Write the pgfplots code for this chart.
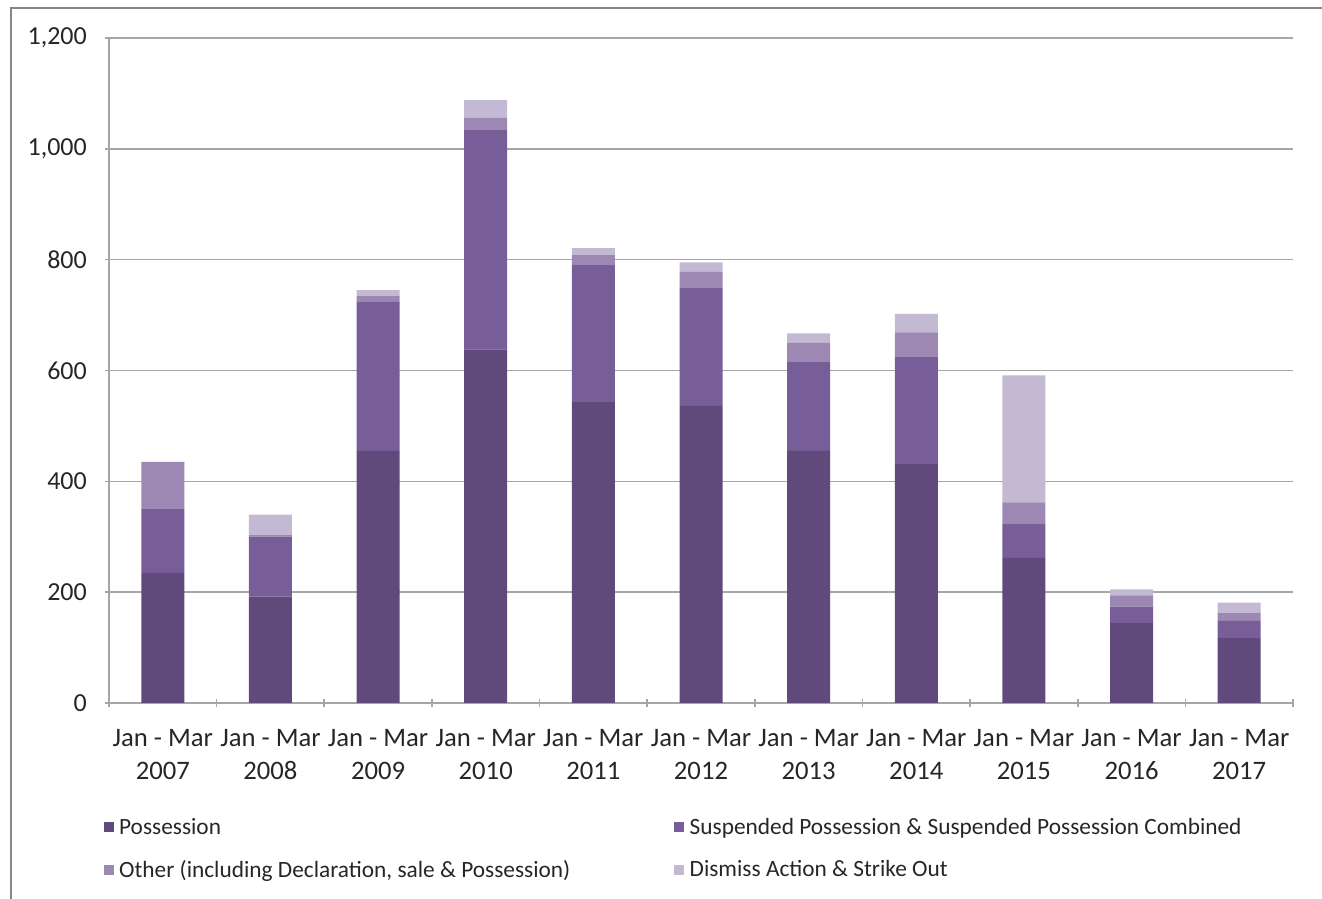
\documentclass[border=0pt]{standalone}
\usepackage{pgfplots}
\pgfplotsset{compat=1.18}
\usepackage{fontspec}
\setmainfont{Carlito}
\definecolor{cPos}{HTML}{604A7B}
\definecolor{cSus}{HTML}{775E98}
\definecolor{cOth}{HTML}{9D88B3}
\definecolor{cDis}{HTML}{C3B9D2}
\definecolor{cGrid}{HTML}{A6A6A6}
\definecolor{cFrame}{HTML}{868686}
\definecolor{cText}{HTML}{262626}
\begin{document}
\begin{tikzpicture}
\path[use as bounding box] (0,0) rectangle (991.5pt,674.25pt);
\draw[color=cFrame, line width=1.5pt] (8.25pt,0) -- (8.25pt,668.25pt) -- (991.5pt,668.25pt);
\begin{axis}[
  at={(81.75pt,147pt)}, anchor=south west,
  scale only axis, width=888pt, height=498.75pt,
  ybar stacked, bar width=32.25pt,
  xmin=-0.5, xmax=10.5, ymin=0, ymax=1200,
  ytick={0,200,...,1200},
  xtick={0,...,10},
  xticklabels={{Jan - Mar\\2007},{Jan - Mar\\2008},{Jan - Mar\\2009},{Jan - Mar\\2010},{Jan - Mar\\2011},{Jan - Mar\\2012},{Jan - Mar\\2013},{Jan - Mar\\2014},{Jan - Mar\\2015},{Jan - Mar\\2016},{Jan - Mar\\2017}},
  xticklabel style={align=center, font=\fontsize{20}{24.75}\selectfont, text=cText, yshift=-12.75pt},
  yticklabel style={font=\fontsize{19.5}{22}\selectfont, text=cText, xshift=-9.75pt},
  /pgf/number format/.cd, 1000 sep={,}, assume math mode=true, /pgfplots/.cd,
  minor xtick={-0.5,0.5,...,10.5},
  tick align=outside,
  major x tick style={draw=none},
  major tick length=6.75pt,
  minor tick length=6pt,
  tick style={color=cGrid, line width=1.2pt},
  axis x line=bottom, axis y line=left,
  axis line style={-, color=cGrid, line width=1.2pt},
  ymajorgrids, grid style={color=cGrid, line width=1.2pt},
  every axis plot/.append style={draw=none},
  legend columns=2,
  legend cell align=left,
  legend style={at={(-0.008,-0.165)}, anchor=north west, draw=none, fill=none,
    font=\fontsize{17.5}{20}\selectfont, text=cText,
    /tikz/every odd column/.append style={column sep=2pt},
    /tikz/every even column/.append style={column sep=76pt},
    row sep=13.75pt},
  legend image code/.code={\fill[#1] (0pt,-3.75pt) rectangle (7.5pt,3.75pt);},
]
\addplot[fill=cPos] coordinates {(0,235) (1,192) (2,455) (3,638) (4,543) (5,536) (6,455) (7,431) (8,262) (9,144) (10,117)};
\addplot[fill=cSus] coordinates {(0,115) (1,108) (2,269) (3,397) (4,247) (5,214) (6,160) (7,193) (8,62) (9,30) (10,31)};
\addplot[fill=cOth] coordinates {(0,85) (1,3) (2,11) (3,21) (4,19) (5,28) (6,35) (7,45) (8,38) (9,20) (10,14)};
\addplot[fill=cDis] coordinates {(0,0) (1,37) (2,10) (3,32) (4,12) (5,17) (6,17) (7,33) (8,229) (9,11) (10,19)};
\legend{Possession, Suspended Possession \& Suspended Possession Combined, {Other (including Declaration, sale \& Possession)}, Dismiss Action \& Strike Out}
\end{axis}
\end{tikzpicture}
\end{document}
